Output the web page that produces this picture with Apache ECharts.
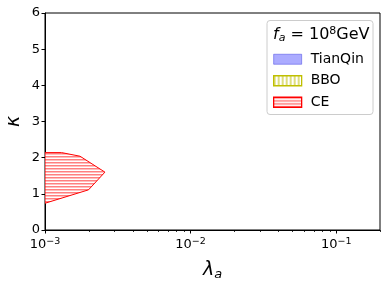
<!DOCTYPE html>
<html><head><meta charset="utf-8">
<script src="https://cdn.jsdelivr.net/npm/echarts@6/dist/echarts.min.js"></script>
<style>html,body{margin:0;padding:0;background:#fff}#c{width:387px;height:287px}</style>
</head><body><div id="c"></div>
<script>
// ---- data ----
const ceLambda = [0.001, 0.0013, 0.00174, 0.00258, 0.00199, 0.001];
const ceKappa  = [2.14, 2.14, 2.04, 1.60, 1.11, 0.74];
const seriesNames = ['TianQin', 'BBO', 'CE'];
const xMajorTicks = [0.001, 0.01, 0.1];
const xMinorTicks = [0.002,0.003,0.004,0.005,0.006,0.007,0.008,0.009,0.02,0.03,0.04,0.05,0.06,0.07,0.08,0.09,0.2];
const xTickExp = {0.001:'−3', 0.01:'−2', 0.1:'−1'};

function hatch(kind, color, step, thick) {
  const c = document.createElement('canvas');
  if (kind === 'h') { c.width = 4; c.height = step; }
  else { c.width = step; c.height = 4; }
  const g = c.getContext('2d');
  g.fillStyle = '#ffffff'; g.fillRect(0,0,c.width,c.height);
  g.fillStyle = color;
  if (kind === 'h') g.fillRect(0, 0, 4, thick); else g.fillRect(0, 0, thick, 4);
  return {image: c, repeat: 'repeat'};
}
const hatchCE = hatch('h', 'rgba(255,0,0,0.5)', 3.25, 1.5);
const hatchCELeg = hatch('h', 'rgba(255,0,0,0.5)', 3.5, 1.5);
const hatchBBO = hatch('v', 'rgba(200,200,40,0.6)', 4, 2);

const chart = echarts.init(document.getElementById('c'), null, {renderer:'canvas'});
const F = 'DejaVu Sans';
chart.setOption({
  animation: false,
  grid: {left: 45, right: 7, top: 13, bottom: 57, containLabel: false, outerBoundsMode: 'none',
         show: true, borderColor: '#000', borderWidth: 1, backgroundColor: 'transparent'},
  xAxis: {
    type: 'log', logBase: 10, min: 0.001, max: 0.2, interval: 1,
    name: '{l|λ}{s|a}', nameLocation: 'middle', nameGap: 31,
    nameTextStyle: {rich: {
      l: {fontFamily: F, fontStyle: 'italic', fontSize: 19, color: '#000', verticalAlign: 'top', lineHeight: 20},
      s: {fontFamily: F, fontStyle: 'italic', fontSize: 13, color: '#000', verticalAlign: 'bottom', lineHeight: 14, padding: [0,0,0,0]}
    }},
    axisLine: {show: true, lineStyle: {color: '#000', width: 1}},
    axisTick: {show: true, length: 3.5, lineStyle: {color: '#000'}},
    splitLine: {show: false},
    axisLabel: {
      margin: 7, showMaxLabel: false,
      formatter: v => {
        const k = xMajorTicks.find(t => Math.abs(t - v) / t < 1e-6);
        return k !== undefined ? '{b|10}{e|' + xTickExp[k] + '}' : '';
      },
      rich: {
        b: {fontFamily: F, fontSize: 13, color: '#000', verticalAlign: 'bottom', lineHeight: 14},
        e: {fontFamily: F, fontSize: 9.5, color: '#000', verticalAlign: 'top', lineHeight: 10}
      }
    }
  },
  yAxis: {
    type: 'value', min: 0, max: 6, interval: 1,
    name: 'κ', nameLocation: 'middle', nameGap: 21, nameRotate: 90, nameMoveOverlap: false,
    nameTextStyle: {fontFamily: F, fontStyle: 'italic', fontSize: 19, color: '#000'},
    axisLine: {show: true, lineStyle: {color: '#000', width: 1}},
    axisTick: {show: true, length: 3.5, lineStyle: {color: '#000'}},
    splitLine: {show: false},
    axisLabel: {fontFamily: F, fontSize: 13, color: '#000', margin: 5}
  },
  legend: {
    orient: 'vertical', left: 273, top: 52, itemWidth: 28, itemHeight: 10, itemGap: 7,
    icon: 'rect', padding: 0,
    textStyle: {fontFamily: F, fontSize: 14, color: '#000', lineHeight: 14.5, padding: [0,0,0,4]},
    data: [
      {name: 'TianQin', itemStyle: {color: 'rgba(0,0,255,0.33)', borderColor: 'rgba(80,80,230,0.55)', borderWidth: 1}},
      {name: 'BBO', itemStyle: {color: hatchBBO, borderColor: '#bfbf00', borderWidth: 1.3}},
      {name: 'CE', itemStyle: {color: hatchCELeg, borderColor: '#ff0000', borderWidth: 1.3}}
    ]
  },
  graphic: [
    {type: 'rect', left: 266.5, top: 20, shape: {width: 106, height: 94, r: 3}, style: {fill: '#fff', stroke: '#cccccc', lineWidth: 1}, z: 0},
    {type: 'text', left: 273, top: 26, z: 10, style: {
      text: '{f|f}{s|a}{n| = 10}{p|8}{n|GeV}',
      rich: {
        f: {fontFamily: F, fontStyle: 'italic', fontSize: 16, fill: '#000', verticalAlign: 'middle', lineHeight: 18},
        s: {fontFamily: F, fontStyle: 'italic', fontSize: 11, fill: '#000', verticalAlign: 'bottom', lineHeight: 11},
        n: {fontFamily: F, fontSize: 16, fill: '#000', verticalAlign: 'middle', lineHeight: 18},
        p: {fontFamily: F, fontSize: 11, fill: '#000', verticalAlign: 'top', lineHeight: 11}
      }
    }}
  ],
  series: [
    {name: 'TianQin', type: 'custom', data: [], renderItem: () => null},
    {name: 'BBO', type: 'custom', data: [], renderItem: () => null},
    {name: 'CE', type: 'custom', data: [0], clip: true, z: 3,
      renderItem: (params, api) => {
        const pts = ceLambda.map((x, i) => api.coord([x, ceKappa[i]]));
        return {type: 'polygon', shape: {points: pts}, style: {fill: hatchCE, stroke: '#ff0000', lineWidth: 1}};
      }},
    {name: 'minorTicks', type: 'custom', data: xMinorTicks.map(v => [v, 0]), clip: false, silent: true,
      renderItem: (params, api) => {
        const p = api.coord([api.value(0), 0]);
        const x = Math.round(p[0]) + 0.5;
        return {type: 'line', shape: {x1: x, y1: p[1], x2: x, y2: p[1] + 2}, style: {stroke: '#000', lineWidth: 0.8}};
      }}
  ]
});
</script></body></html>
